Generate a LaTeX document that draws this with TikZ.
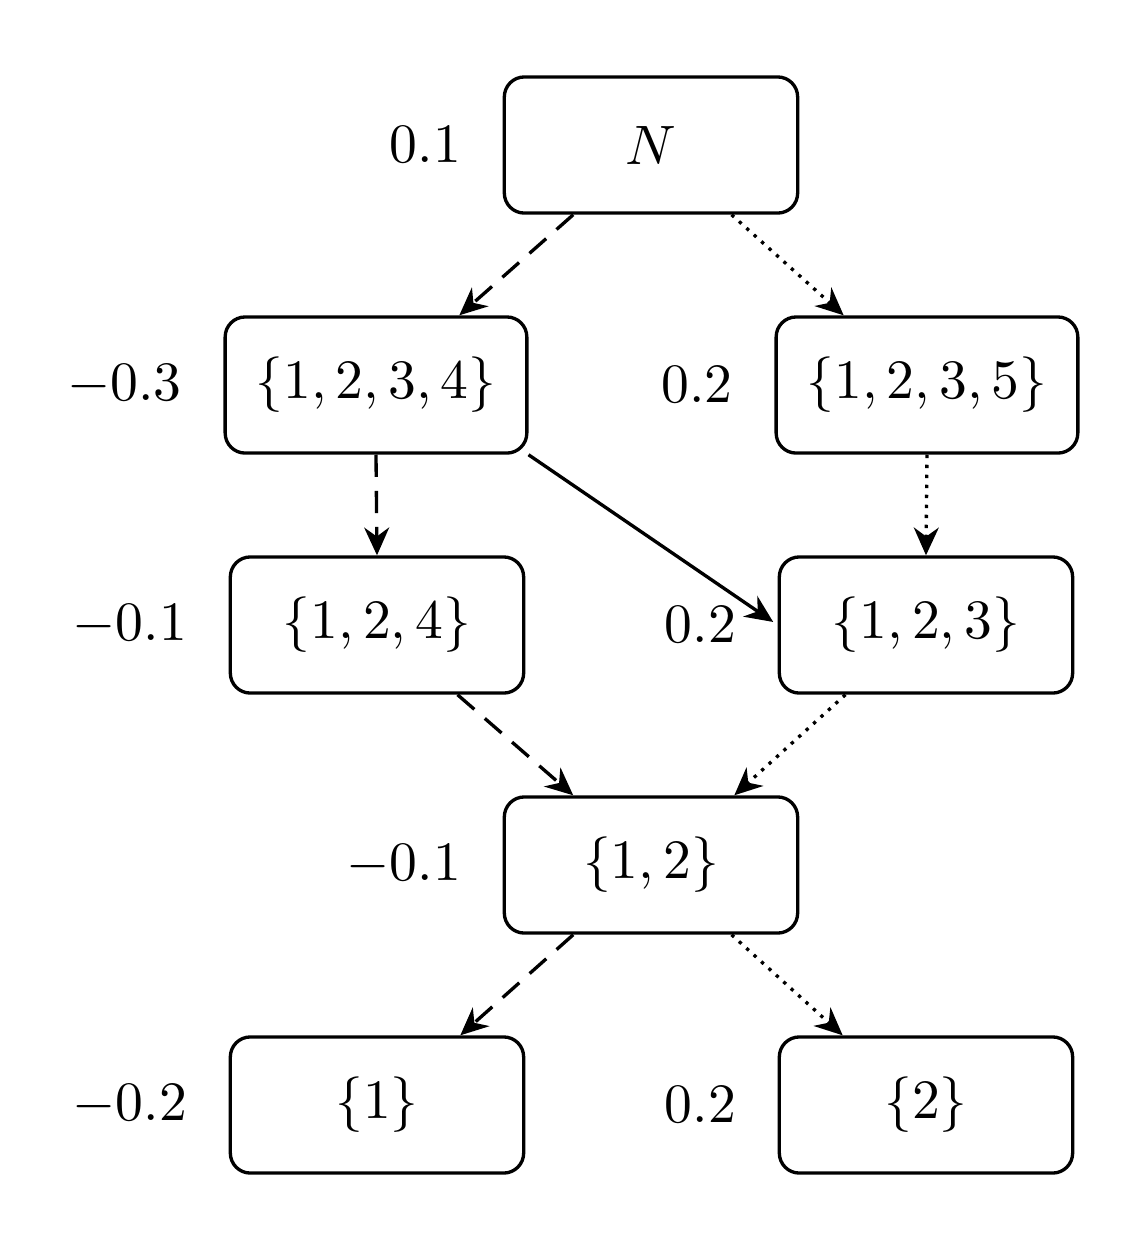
\documentclass[tikz,border=0pt]{standalone}
\usetikzlibrary{calc,arrows.meta}
\begin{document}
\begin{tikzpicture}[x=0.18pt,y=-0.18pt,
  box/.style={draw,line width=0.6pt,rounded corners=3.6pt,minimum width=52.8pt,minimum height=24.5pt,inner sep=0pt},
  lab/.style={label={[label distance=4pt]left:#1}},
  arr/.style={line width=0.6pt,-{Stealth[length=5pt,width=4.5pt]}},
  dsh/.style={dash pattern=on 4pt off 2.5pt},
  dot/.style={dash pattern=on 0.6pt off 1.2pt}]
\useasboundingbox (0,0) rectangle (1140,1256);
\node[box,lab={$0.1$}] (N) at (651,145) {$N$};
\node[box,minimum width=54.3pt,lab={$-0.3$}] (a) at (376,385) {$\{1,2,3,4\}$};
\node[box,minimum width=54.3pt,lab={$0.2$}] (b) at (927,385) {$\{1,2,3,5\}$};
\node[box,lab={$-0.1$}] (c) at (377,625) {$\{1,2,4\}$};
\node[box,lab={$0.2$}] (d) at (926,625) {$\{1,2,3\}$};
\node[box,lab={$-0.1$}] (e) at (651,865) {$\{1,2\}$};
\node[box,lab={$-0.2$}] (f) at (377,1105) {$\{1\}$};
\node[box,lab={$0.2$}] (g) at (926,1105) {$\{2\}$};
\draw[arr,dsh] ([xshift=-14pt]N.south) -- ([xshift=15pt]a.north);
\draw[arr,dot] ([xshift=14.5pt]N.south) -- ([xshift=-15pt]b.north);
\draw[arr,dsh] (a.south) -- (c.north);
\draw[arr] (a.south east) -- ([xshift=-0.8pt,yshift=-12pt]d.north west);
\draw[arr,dot] (b.south) -- (d.north);
\draw[arr,dsh] ([xshift=14.5pt]c.south) -- ([xshift=-14pt]e.north);
\draw[arr,dot] ([xshift=-14.5pt]d.south) -- ([xshift=15pt]e.north);
\draw[arr,dsh] ([xshift=-14pt]e.south) -- ([xshift=15pt]f.north);
\draw[arr,dot] ([xshift=14.5pt]e.south) -- ([xshift=-15pt]g.north);
\end{tikzpicture}
\end{document}
